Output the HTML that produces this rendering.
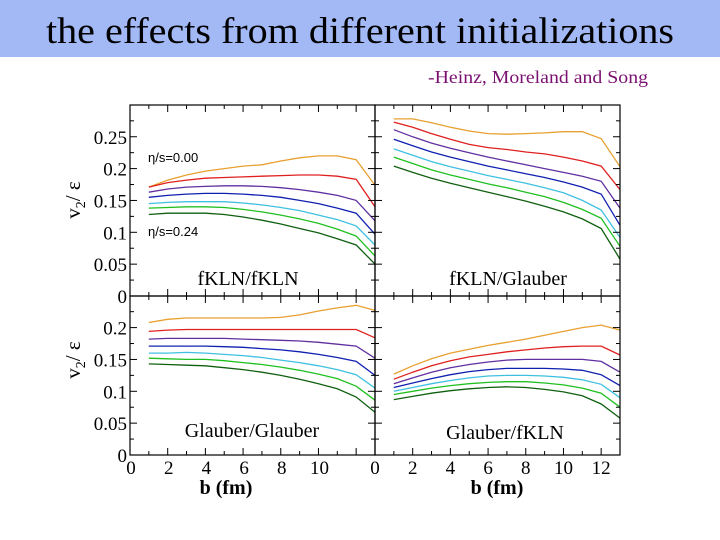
<!DOCTYPE html>
<html><head><meta charset="utf-8"><style>
body{margin:0;width:720px;height:540px;background:#fff;overflow:hidden}
svg{display:block}
</style></head><body>
<svg id="chart" width="720" height="540" font-family="Liberation Serif, serif">
<rect x="0" y="0" width="720" height="57" fill="#a3b9f5"/>
<text x="360" y="43" text-anchor="middle" font-size="37" textLength="628" lengthAdjust="spacingAndGlyphs" fill="#000">the effects from different initializations</text>
<text x="648" y="83" text-anchor="end" font-size="18" fill="#7a1070" textLength="220" lengthAdjust="spacingAndGlyphs">-Heinz, Moreland and Song</text>
<g id="plots"></g>
</svg>
<script>
const bValues=[1,2,3,4,5,6,7,8,9,10,11,12,13];
const seriesColors=["#e8a030","#e02020","#6030a0","#1020b0","#40c0e0","#20c020","#106010"];
const fklnFkln=[
[0.171,0.182,0.190,0.196,0.200,0.204,0.206,0.212,0.217,0.220,0.220,0.214,0.174],
[0.171,0.178,0.182,0.185,0.186,0.187,0.188,0.189,0.190,0.190,0.188,0.183,0.140],
[0.163,0.168,0.171,0.172,0.173,0.173,0.172,0.170,0.167,0.163,0.158,0.150,0.118],
[0.155,0.158,0.160,0.161,0.161,0.160,0.158,0.155,0.150,0.145,0.138,0.130,0.097],
[0.145,0.147,0.148,0.148,0.148,0.146,0.143,0.139,0.134,0.127,0.120,0.110,0.080],
[0.138,0.139,0.140,0.140,0.139,0.136,0.132,0.127,0.121,0.114,0.105,0.094,0.063],
[0.128,0.130,0.130,0.130,0.128,0.124,0.119,0.113,0.106,0.099,0.090,0.080,0.050]];
const fklnGlauber=[
[0.278,0.278,0.272,0.265,0.259,0.255,0.254,0.255,0.256,0.258,0.258,0.247,0.203],
[0.273,0.265,0.255,0.246,0.238,0.233,0.230,0.226,0.223,0.218,0.212,0.204,0.167],
[0.261,0.250,0.240,0.232,0.225,0.218,0.212,0.206,0.200,0.194,0.188,0.180,0.138],
[0.246,0.236,0.226,0.218,0.211,0.204,0.198,0.192,0.186,0.179,0.171,0.160,0.111],
[0.231,0.221,0.211,0.203,0.196,0.189,0.183,0.177,0.170,0.162,0.150,0.135,0.092],
[0.218,0.208,0.198,0.190,0.183,0.176,0.170,0.163,0.156,0.147,0.136,0.122,0.078],
[0.204,0.194,0.185,0.177,0.170,0.163,0.156,0.149,0.141,0.132,0.121,0.106,0.058]];
const glauberGlauber=[
[0.208,0.213,0.215,0.215,0.215,0.215,0.215,0.216,0.220,0.226,0.231,0.235,0.227],
[0.194,0.196,0.197,0.197,0.197,0.197,0.197,0.197,0.197,0.197,0.197,0.197,0.184],
[0.182,0.183,0.183,0.183,0.183,0.182,0.181,0.180,0.179,0.177,0.174,0.171,0.152],
[0.171,0.171,0.171,0.171,0.170,0.169,0.167,0.165,0.162,0.158,0.153,0.147,0.125],
[0.160,0.160,0.161,0.160,0.158,0.156,0.153,0.149,0.145,0.140,0.134,0.126,0.105],
[0.152,0.151,0.150,0.150,0.148,0.145,0.142,0.138,0.133,0.127,0.120,0.108,0.086],
[0.143,0.142,0.141,0.140,0.137,0.134,0.130,0.125,0.119,0.112,0.104,0.091,0.067]];
const glauberFkln=[
[0.127,0.140,0.151,0.160,0.166,0.172,0.177,0.182,0.188,0.194,0.200,0.204,0.196],
[0.119,0.130,0.140,0.148,0.154,0.158,0.162,0.165,0.168,0.170,0.171,0.171,0.157],
[0.112,0.121,0.130,0.137,0.142,0.146,0.149,0.150,0.150,0.150,0.150,0.147,0.130],
[0.106,0.113,0.120,0.126,0.131,0.134,0.136,0.136,0.136,0.135,0.133,0.126,0.109],
[0.100,0.106,0.112,0.117,0.121,0.124,0.125,0.125,0.124,0.122,0.118,0.111,0.090],
[0.095,0.100,0.105,0.109,0.112,0.114,0.115,0.115,0.113,0.110,0.105,0.097,0.075],
[0.087,0.092,0.097,0.101,0.104,0.106,0.107,0.106,0.103,0.099,0.093,0.080,0.058]];
const yTickLabelsTop=["0","0.05","0.1","0.15","0.2","0.25"];
const yTickLabelsBottom=["0","0.05","0.1","0.15","0.2"];
const xTickLabelsLeft=["0","2","4","6","8","10"];
const xTickLabelsRight=["0","2","4","6","8","10","12"];

const NS="http://www.w3.org/2000/svg";
const root=document.getElementById("plots");
function mk(tag,attrs,parent){const e=document.createElementNS(NS,tag);for(const k in attrs)e.setAttribute(k,attrs[k]);(parent||root).appendChild(e);return e;}
const PX=245/13; // px per fm
const PY=637;  // px per unit
const panels=[
 {name:"fkln-fkln",x0:130,y0:296,top:105,data:fklnFkln,label:"fKLN/fKLN",lx:248,ly:285},
 {name:"fkln-glauber",x0:375,y0:296,top:105,data:fklnGlauber,label:"fKLN/Glauber",lx:508,ly:285},
 {name:"glauber-glauber",x0:130,y0:455,top:296,data:glauberGlauber,label:"Glauber/Glauber",lx:252,ly:437},
 {name:"glauber-fkln",x0:375,y0:455,top:296,data:glauberFkln,label:"Glauber/fKLN",lx:505,ly:439}];
panels.forEach(p=>{
 const xs=b=>p.x0+b*PX, ys=v=>p.y0-v*PY;
 const g=mk("g",{});
 
 
 seriesColors.forEach((c,i)=>{
  const pts=bValues.map((b,j)=>xs(b).toFixed(1)+","+ys(p.data[i][j]).toFixed(1)).join(" ");
  const pl=mk("polyline",{points:pts,fill:"none",stroke:c,"stroke-width":1.3},g);
  
  
 });
 const t=mk("text",{x:p.lx,y:p.ly,"text-anchor":"middle","font-size":20},g);
 t.textContent=p.label;
 
 
 for(let b=0;b<=13;b+=1){const L=b%2===0?7:4;
  mk("line",{x1:xs(b),x2:xs(b),y1:p.y0,y2:p.y0-L,stroke:"#000"},g);
  mk("line",{x1:xs(b),x2:xs(b),y1:p.top,y2:p.top+L,stroke:"#000"},g);}
 for(let v=0;p.y0-v*PY>p.top+1;v+=0.025){const L=Math.round(v*1000)%50===0?7:4;
  mk("line",{x1:p.x0,x2:p.x0+L,y1:ys(v),y2:ys(v),stroke:"#000"},g);
  mk("line",{x1:p.x0+245,x2:p.x0+245-L,y1:ys(v),y2:ys(v),stroke:"#000"},g);}
 mk("rect",{x:p.x0,y:p.top,width:245,height:p.y0-p.top,fill:"none",stroke:"#000","stroke-width":1.2},g);
});
function ylab(labels,y0,nm){labels.forEach((s,i)=>{const t=mk("text",{x:127,y:y0-i*0.05*PY+7,"text-anchor":"end","font-size":19});t.textContent=s;
 });}
ylab(yTickLabelsTop,296,"y-tick-label-top");
ylab(yTickLabelsBottom,455,"y-tick-label-bottom");
function xlab(labels,x0,nm){labels.forEach((s,i)=>{const t=mk("text",{x:x0+Number(s)*PX,y:474,"text-anchor":"middle","font-size":19});t.textContent=s;
 });}
xlab(xTickLabelsLeft,131,"x-tick-label-left");
xlab(xTickLabelsRight,375,"x-tick-label-right");
[[226,"x-axis-title-left"],[497,"x-axis-title-right"]].forEach(([x,nm])=>{const t=mk("text",{x:x,y:494,"text-anchor":"middle","font-size":20,"font-weight":"bold"});t.textContent="b (fm)";
 });
[[200,"y-axis-title-top"],[360,"y-axis-title-bottom"]].forEach(([y,nm])=>{const t=mk("text",{x:0,y:0,transform:"translate(80,"+y+") rotate(-90)","text-anchor":"middle","font-size":21});
 t.innerHTML='v<tspan font-size="14" dy="5">2</tspan><tspan dy="-5">/ ε</tspan>';
 });
[[148,162,"η/s=0.00","eta-label-ideal"],[148,236,"η/s=0.24","eta-label-viscous"]].forEach(([x,y,s,nm])=>{const t=mk("text",{x:x,y:y,"font-size":13,"font-family":"Liberation Sans, sans-serif"});t.textContent=s;
 });
</script>
</body></html>
